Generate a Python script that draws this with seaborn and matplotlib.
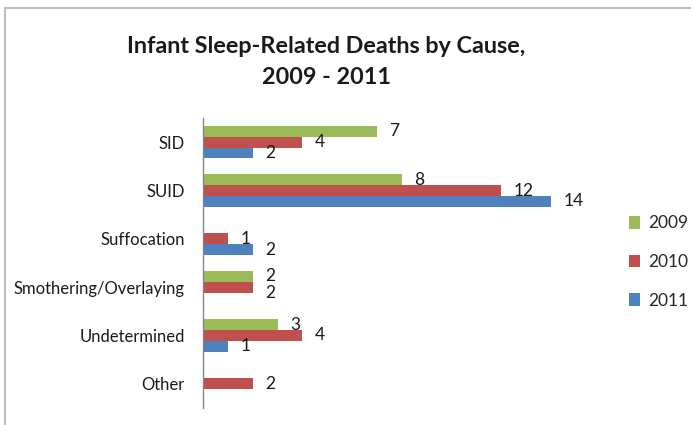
import numpy as np
import pandas as pd
import matplotlib
matplotlib.use("Agg")
import matplotlib.pyplot as plt
from matplotlib.patches import Patch
from matplotlib.lines import Line2D
import seaborn as sns

categories = ["SID", "SUID", "Suffocation", "Smothering/Overlaying", "Undetermined", "Other"]
years = ["2009", "2010", "2011"]
values_2009 = [7, 8, 0, 2, 3, 0]
values_2010 = [4, 12, 1, 2, 4, 2]
values_2011 = [2, 14, 2, 0, 1, 0]
colors = ["#9BBB59", "#C0504D", "#4F81BD"]
title = "Infant Sleep-Related Deaths by Cause,\n2009 - 2011"

rows = []
for yr, vals in zip(years, [values_2009, values_2010, values_2011]):
    for c, v in zip(categories, vals):
        rows.append({"Cause": c, "Year": yr, "Deaths": v})
df = pd.DataFrame(rows)

sns.set_style("white")
plt.rcParams["font.family"] = ["Lato", "DejaVu Sans"]

W, H = 691, 425
fig = plt.figure(figsize=(W / 100, H / 100), dpi=100)
x0, x1 = 203, 588.3
y_top, y_bot = 118, 408
ax = fig.add_axes([x0 / W, (H - y_bot) / H, (x1 - x0) / W, (y_bot - y_top) / H])

sns.barplot(data=df, x="Deaths", y="Cause", hue="Year", order=categories,
            hue_order=years, palette=colors, saturation=1, orient="h", width=3 / 4.5,
            gap=0, errorbar=None, linewidth=0, ax=ax, legend=False)

ax.set_xlim(0, 15.5)
ax.set_ylim(len(categories) - 0.5, -0.5)
ax.set_xlabel("")
ax.set_ylabel("")
ax.set_xticks([])
for s in ["top", "right", "bottom"]:
    ax.spines[s].set_visible(False)
ax.spines["left"].set_color("#868686")
ax.spines["left"].set_linewidth(1.0)

ax.set_yticks(range(len(categories)))
ax.set_yticklabels(categories, fontsize=12, color="#1a1a1a")
ax.set_yticks(np.arange(-0.5, len(categories), 1.0), minor=True)
ax.tick_params(axis="y", which="major", length=0, pad=13)
ax.tick_params(axis="y", which="minor", length=4, width=1, color="#868686", direction="out")

label_texts = []
for cont in ax.containers:
    labels = [f"{b.get_width():.0f}" if np.isfinite(b.get_width()) and b.get_width() > 0 else ""
              for b in cont]
    label_texts.append(ax.bar_label(cont, labels=labels, padding=9, fontsize=12.5, color="#1a1a1a"))

# nudge overlapping labels apart (like Excel's label placement)
fig.canvas.draw()
renderer = fig.canvas.get_renderer()
n = len(categories)
for i in range(n):
    prev = None
    for texts in label_texts:
        t = texts[i]
        if not t.get_text():
            continue
        bb = t.get_window_extent(renderer)
        if prev is not None:
            overlap = bb.y1 - prev.y0 + 1
            if overlap > 0 and bb.x0 < prev.x1 and bb.x1 > prev.x0:
                x, y = t.xyann
                t.xyann = (x, y - overlap * 72 / 100)
                fig.canvas.draw()
                bb = t.get_window_extent(renderer)
        prev = bb

fig.text(326 / W, 1 - 62 / H, title, ha="center", va="center", fontsize=16.8,
         fontweight="bold", color="#1a1a1a", linespacing=1.6)

handles = [Patch(facecolor=c, edgecolor="none") for c in colors]
fig.legend(handles, years, loc="center left", bbox_to_anchor=(629 / W, 1 - 262 / H),
           frameon=False, fontsize=12.5, handlelength=0.65, handleheight=0.75,
           handletextpad=0.45, labelspacing=1.3, borderpad=0, borderaxespad=0)

fig.add_artist(Line2D([5 / W, 5 / W], [0, 1 - 8 / H], transform=fig.transFigure,
                      color="#BEBEBE", linewidth=1.5))
fig.add_artist(Line2D([5 / W, 1], [1 - 8 / H, 1 - 8 / H], transform=fig.transFigure,
                      color="#BEBEBE", linewidth=1.5))

fig.savefig("out.png", dpi=100)
